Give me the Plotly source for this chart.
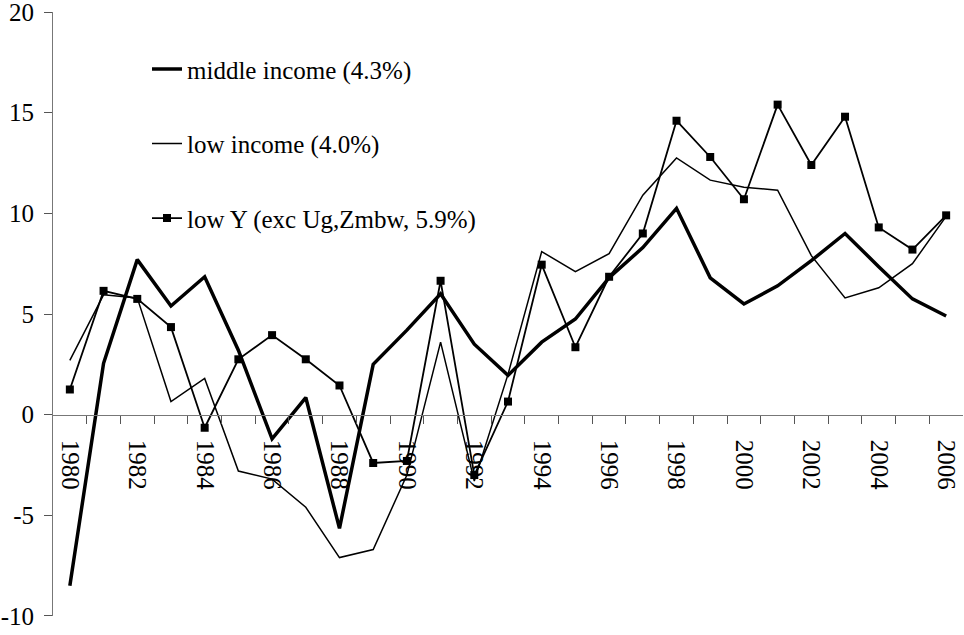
import plotly.graph_objects as go

years = list(range(1980, 2007))
middle_income = [-8.5, 2.55, 7.7, 5.4, 6.85, 3.2, -1.2, 0.85, -5.65, 2.5, 4.2, 6.0, 3.5, 1.95,
                 3.6, 4.75, 6.8, 8.3, 10.25, 6.8, 5.5, 6.4, 7.65, 9.0, 7.35, 5.75, 4.9]
low_income = [2.7, 5.95, 5.8, 0.65, 1.8, -2.8, -3.2, -4.6, -7.1, -6.7, -3.0, 3.6, -3.3, 2.0,
              8.1, 7.1, 8.0, 10.9, 12.75, 11.65, 11.3, 11.15, 7.9, 5.8, 6.3, 7.5, 9.85]
low_y = [1.25, 6.15, 5.75, 4.35, -0.65, 2.75, 3.95, 2.75, 1.45, -2.4, -2.3, 6.65, -3.0, 0.65,
         7.45, 3.35, 6.85, 9.0, 14.6, 12.8, 10.7, 15.4, 12.4, 14.8, 9.3, 8.2, 9.9]
names = ["middle income (4.3%)", "low income (4.0%)", "low Y (exc Ug,Zmbw, 5.9%)"]
x_labels = list(range(1980, 2007, 2))
x_bounds = [y + 0.5 for y in range(1980, 2006)]
y_ticks = [-10, -5, 0, 5, 10, 15, 20]
y_labels = ["-10", "-5", "0", "5", "10", "15", "20"]

FONT = "Liberation Serif"

fig = go.Figure()
fig.add_trace(go.Scatter(x=years, y=middle_income, name=names[0], mode="lines",
                         line=dict(color="black", width=3.5), legendgroup="a"))
fig.add_trace(go.Scatter(x=years, y=low_income, name=names[1], mode="lines",
                         line=dict(color="black", width=1.5), legendgroup="b"))
fig.add_trace(go.Scatter(x=years, y=low_y, name=names[2], mode="lines+markers",
                         xaxis="x2",
                         line=dict(color="black", width=1.8),
                         marker=dict(symbol="square", size=8, color="black"),
                         legendgroup="c"))

fig.update_layout(
    width=964, height=635,
    margin=dict(l=53, r=1, t=12, b=19),
    paper_bgcolor="white", plot_bgcolor="white",
    font=dict(family=FONT, size=25, color="black"),
    showlegend=True,
    legend=dict(x=(139 - 45) / 910, y=0.9432, xanchor="left", yanchor="top",
                bgcolor="rgba(0,0,0,0)", tracegroupgap=39,
                font=dict(family=FONT, size=25, color="black")),
    xaxis=dict(range=[1979.5, 2006.5], anchor="free", position=1/3, automargin=False,
               showline=True, linecolor="#777", linewidth=1,
               showgrid=False, zeroline=False,
               tickmode="array", tickvals=x_bounds,
               ticks="outside", ticklen=8, tickcolor="#555", showticklabels=False),
    xaxis2=dict(range=[1979.5, 2006.5], overlaying="x", anchor="free", position=1/3,
                automargin=False, showline=False, showgrid=False, zeroline=False,
                tickmode="array", tickvals=x_labels, ticktext=[str(v) for v in x_labels],
                ticks="", tickangle=90, ticklabelstandoff=24, ticklabeloverflow="allow",
                tickfont=dict(family=FONT, size=25, color="black")),
    yaxis=dict(range=[-10.001, 20.001], automargin=False,
               showline=True, linecolor="#777", linewidth=1,
               showgrid=False, zeroline=False,
               tickmode="array", tickvals=y_ticks, ticktext=y_labels,
               ticks="outside", ticklen=8, tickcolor="#555", ticklabelstandoff=5,
               ticklabeloverflow="allow",
               tickfont=dict(family=FONT, size=25, color="black")),
)

fig.write_html("out.html", config={"displayModeBar": False},
               post_script="document.body.style.margin='0';document.body.style.overflow='hidden';")
